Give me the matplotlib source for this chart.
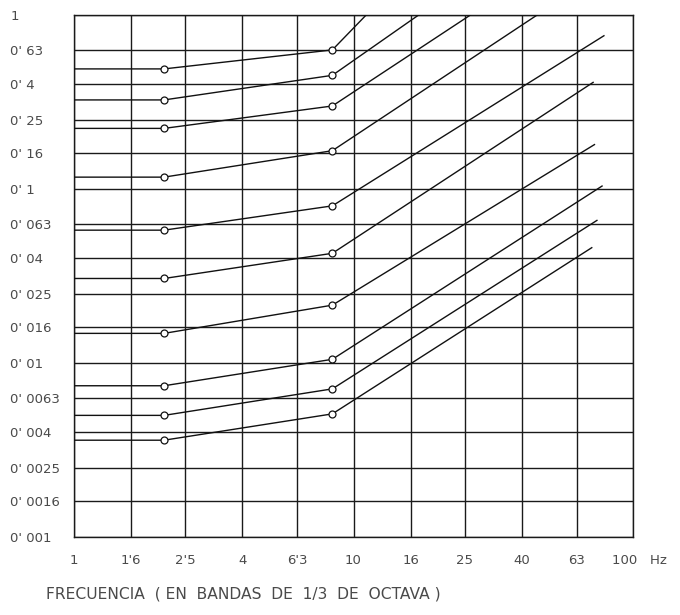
import matplotlib
matplotlib.use("Agg")
import matplotlib.pyplot as plt
from matplotlib.ticker import NullLocator

# curves: flat from 1 Hz, knee at ~2 Hz, knee at ~8 Hz, then the steep part
knee_freq = [1, 2.1, 8.4]
flat_level = [0.49, 0.325, 0.223, 0.117, 0.058, 0.0306, 0.0148, 0.0074, 0.005, 0.0036]
knee_level = [0.63, 0.45, 0.30, 0.166, 0.080, 0.0427, 0.0215, 0.0105, 0.0071, 0.0051]
end_freq = [11.1, 17.1, 26.2, 45.4, 78.7, 72.0, 72.8, 77.5, 74.3, 71.2]
end_level = [1.0, 1.0, 1.0, 1.0, 0.76, 0.41, 0.18, 0.104, 0.066, 0.046]

x_ticks = [1, 1.6, 2.5, 4, 6.3, 10, 16, 25, 40, 63, 100]
x_labels = ["1", "1'6", "2'5", "4", "6'3", "10", "16", "25", "40", "63", ""]
y_ticks = [1, 0.63, 0.4, 0.25, 0.16, 0.1, 0.063, 0.04, 0.025, 0.016,
           0.01, 0.0063, 0.004, 0.0025, 0.0016, 0.001]
y_labels = ["1", "0' 63", "0' 4", "0' 25", "0' 16", "0' 1", "0' 063", "0' 04",
            "0' 025", "0' 016", "0' 01", "0' 0063", "0' 004", "0' 0025",
            "0' 0016", "0' 001"]

W, H = 680, 615
fig = plt.figure(figsize=(W / 100, H / 100), dpi=100)
ax = fig.add_axes([74 / W, (H - 537) / H, 559 / W, 522 / H])

ax.set_xscale("log")
ax.set_yscale("log")
ax.set_xlim(1, 100)
ax.set_ylim(0.001, 1)

for fl, kl, ef, el in zip(flat_level, knee_level, end_freq, end_level):
    xs = knee_freq + [ef]
    ys = [fl, fl, kl, el]
    ax.plot(xs, ys, color="#111111", lw=1.0, marker="o", markevery=[1, 2],
            markersize=5, markerfacecolor="white", markeredgecolor="#111111",
            markeredgewidth=0.9, zorder=3)

ax.xaxis.set_minor_locator(NullLocator())
ax.yaxis.set_minor_locator(NullLocator())
ax.set_xticks(x_ticks, x_labels)
ax.set_yticks(y_ticks, y_labels)
ax.grid(True, which="major", color="#1a1a1a", lw=1.0)
for s in ax.spines.values():
    s.set_color("#1a1a1a")
    s.set_linewidth(1.0)

txt = "#4a4a4a"
ax.tick_params(axis="x", length=0, pad=12, labelsize=9.5, labelcolor=txt)
ax.tick_params(axis="y", length=0, pad=46, labelsize=9.5, labelcolor=txt)
for lab in ax.get_yticklabels():
    lab.set_horizontalalignment("left")

ax.annotate("100   Hz", xy=(100, 0.001), xycoords="data", xytext=(-15, -12),
            textcoords="offset points", ha="left", va="top", fontsize=9.5, color=txt)

fig.text(46 / W, 1 - 594 / H, "FRECUENCIA  ( EN  BANDAS  DE  1/3  DE  OCTAVA )",
         ha="left", va="center", fontsize=11.2, color=txt)

fig.savefig("out.png", dpi=100)
